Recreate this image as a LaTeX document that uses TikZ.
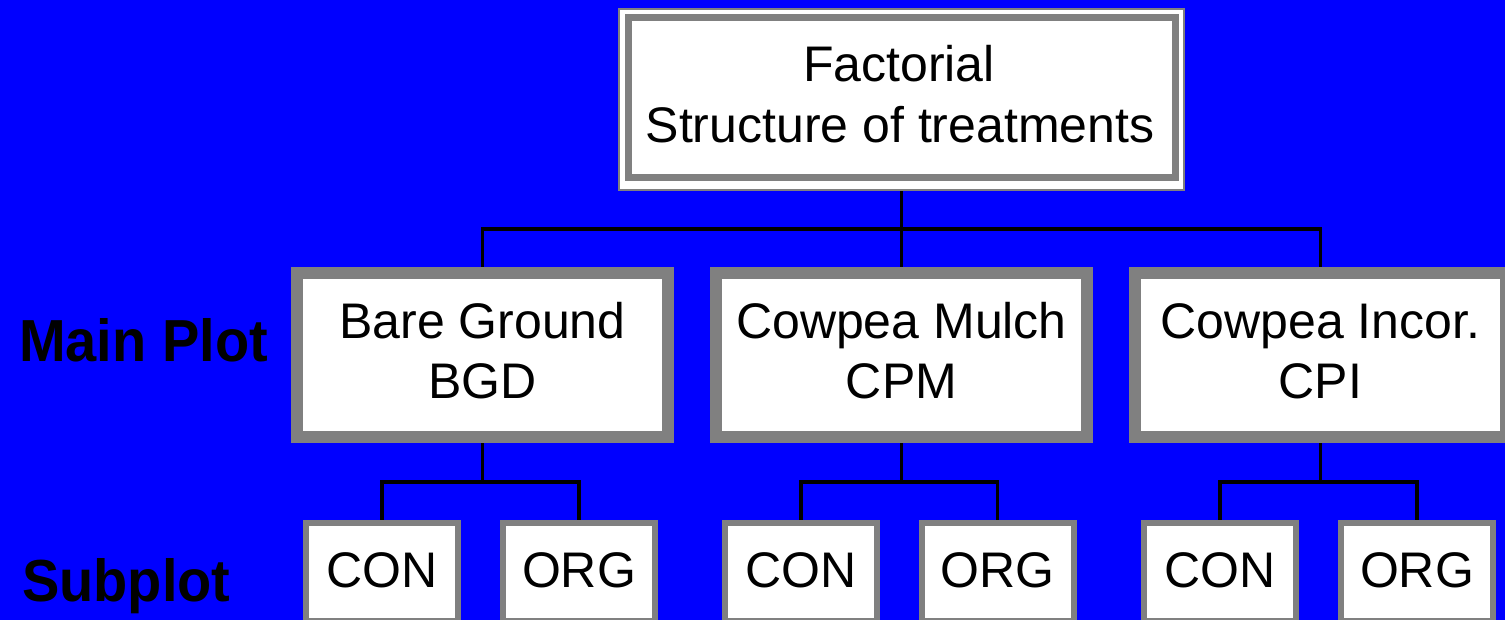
\documentclass[tikz,border=0pt]{standalone}
\usepackage{fontspec}
\setmainfont{Liberation Sans}
\usetikzlibrary{backgrounds}
\definecolor{bgblue}{RGB}{0,0,255}
\definecolor{boxgray}{RGB}{128,128,128}
\begin{document}
\begin{tikzpicture}[x=1pt,y=-1pt,
  topbox/.style={draw=boxgray, line width=7pt, fill=white, minimum width=547pt, minimum height=160.5pt, inner sep=0pt, outer sep=0pt},
  mainbox/.style={draw=boxgray, line width=12pt, fill=white, minimum width=371pt, minimum height=164pt, inner sep=0pt, outer sep=0pt},
  subbox/.style={draw=boxgray, line width=6pt, fill=white, minimum width=152pt, minimum height=98pt, inner sep=0pt, outer sep=0pt},
  boxtext/.style={anchor=base, inner sep=0pt, font=\fontsize{50}{60}\selectfont},
  sidelabel/.style={anchor=base west, inner sep=0pt, font=\fontsize{56}{60}\selectfont\bfseries, yscale=1.06},
  conn/.style={draw=black, line width=3.5pt}
]
\useasboundingbox (0,0) rectangle (1505,620);

% boxes
\node[topbox] (top) at (901.5,97.75) {};
\node[mainbox] (bgd) at (482.5,355) {};
\node[mainbox] (cpm) at (901.5,355) {};
\node[mainbox] (cpi) at (1320.5,355) {};
\node[subbox] (bgdcon) at (382,572) {};
\node[subbox] (bgdorg) at (579,572) {};
\node[subbox] (cpmcon) at (801,572) {};
\node[subbox] (cpmorg) at (997.5,572) {};
\node[subbox] (cpicon) at (1220,572) {};
\node[subbox] (cpiorg) at (1417,572) {};

% texts
\node[boxtext] (t1) at (899,82) {Factorial};
\node[boxtext] (t2) at (900,143) {Structure of treatments};
\node[boxtext] (b1) at (482.5,338) {Bare Ground};
\node[boxtext] (b2) at (482.5,399) {BGD};
\node[boxtext] (m1) at (901.5,338) {Cowpea Mulch};
\node[boxtext] (m2) at (901.5,399) {CPM};
\node[boxtext] (i1) at (1320.5,338) {Cowpea Incor.};
\node[boxtext] (i2) at (1320.5,399) {CPI};
\node[boxtext] (s1) at (382,587) {CON};
\node[boxtext] (s2) at (579,587) {ORG};
\node[boxtext] (s3) at (801,587) {CON};
\node[boxtext] (s4) at (997.5,587) {ORG};
\node[boxtext] (s5) at (1220,587) {CON};
\node[boxtext] (s6) at (1417,587) {ORG};
\node[sidelabel] (mainplot) at (19,361) {Main Plot};
\node[sidelabel] (subplot) at (22,601) {Subplot};

\coordinate (busy) at (0,229);
\coordinate (suby) at (0,482);

\begin{scope}[on background layer]
  \fill[bgblue] (0,0) rectangle (1505,620);
  \draw[conn] (top.south) -- (cpm.north);
  \draw[conn] (bgd.north) -- (bgd.north |- busy) -- (cpi.north |- busy) -- (cpi.north);
  \draw[conn] (bgd.south) -- (bgd.south |- suby);
  \draw[conn] (bgdcon.north) -- (bgdcon.north |- suby) -- (bgdorg.north |- suby) -- (bgdorg.north);
  \draw[conn] (cpm.south) -- (cpm.south |- suby);
  \draw[conn] (cpmcon.north) -- (cpmcon.north |- suby) -- (cpmorg.north |- suby) -- (cpmorg.north);
  \draw[conn] (cpi.south) -- (cpi.south |- suby);
  \draw[conn] (cpicon.north) -- (cpicon.north |- suby) -- (cpiorg.north |- suby) -- (cpiorg.north);
  \draw[boxgray, line width=2pt, fill=white] ([shift={(-9.5,-8.5)}]top.north west) rectangle ([shift={(8.5,12)}]top.south east);
\end{scope}
\end{tikzpicture}
\end{document}
